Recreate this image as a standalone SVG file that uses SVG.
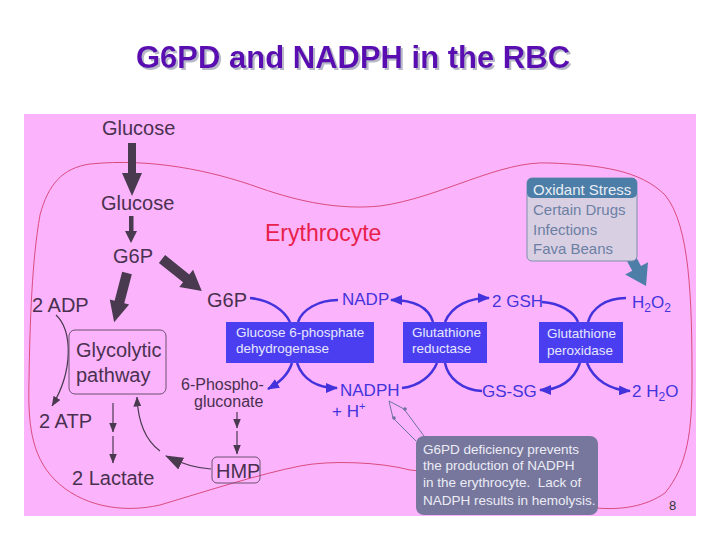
<svg xmlns="http://www.w3.org/2000/svg" width="720" height="540" viewBox="0 0 720 540">
<style>
text{font-family:"Liberation Sans",Arial,sans-serif}
.dk{fill:#4a3050;font-size:20px}
.bl{fill:#4433dd;font-size:17px}
.en{fill:#e6e6ff;font-size:13.5px}
.bx{fill:#4b3ef0}
.dl{fill:none;stroke:#4a3a50;stroke-width:1.2}
.bc{fill:none;stroke:#4433dd;stroke-width:2.5}
.thick{fill:#4a3a50}
</style>
<defs>
<filter id="sh" x="-5%" y="-20%" width="110%" height="150%"><feDropShadow dx="2" dy="2" stdDeviation="0.3" flood-color="#b8b8c8" flood-opacity="1"/></filter>
<marker id="ab" viewBox="0 0 12 10" refX="11" refY="5" markerWidth="12" markerHeight="10" markerUnits="userSpaceOnUse" orient="auto"><path d="M0,0 L12,5 L0,10 Z" fill="#4433dd"/></marker>
<marker id="ad" viewBox="0 0 10 8" refX="9.5" refY="4" markerWidth="10" markerHeight="8" markerUnits="userSpaceOnUse" orient="auto"><path d="M0,0 L10,4 L0,8 Z" fill="#4a3a50"/></marker>
<marker id="adb" viewBox="0 0 18 13" refX="17" refY="6.5" markerWidth="18" markerHeight="13" markerUnits="userSpaceOnUse" orient="auto"><path d="M0,0 L18,6.5 L0,13 Z" fill="#4a3a50"/></marker>
</defs>
<rect width="720" height="540" fill="#ffffff"/>
<g id="title">
<text x="353" y="68" text-anchor="middle" font-size="31" font-weight="bold" fill="#5a0ab0" filter="url(#sh)">G6PD and NADPH in the RBC</text>
</g>
<rect id="panel" x="24" y="114" width="672" height="402" fill="#fbb4fb"/>
<path id="cell" d="M90,164 C150,158 210,170 260,188 C300,202 340,210 380,206 C440,198 500,160 550,163 C600,165 640,170 665,195 C690,225 692,300 692,380 C692,430 688,465 665,493 C645,507 620,510 597,508 C540,504 460,474 410,470 C380,462 330,460 300,466 C260,474 210,490 160,505 C120,514 80,505 55,480 C30,455 28,420 29,380 C30,320 32,260 40,215 C48,185 62,168 90,164 Z" fill="none" stroke="#d03060" stroke-width="0.8"/>
<text id="erythrocyte" x="265" y="241" font-size="23" fill="#e8204c">Erythrocyte</text>

<g id="connectors">
<polygon class="thick" points="128,143 136,143 136,173 142,173 132,196 122,173 128,173"/>
<polygon class="thick" points="129,216 133.5,216 133.5,231 137,231 131,243 125,231 129,231"/>
<polygon class="thick" points="0,-5 31,-5 31,-11 51,0 31,11 31,5 0,5" transform="translate(162,259) rotate(38.7)"/>
<polygon class="thick" points="0,-5 30,-5 30,-10 51,0 30,10 30,5 0,5" transform="translate(127,273) rotate(104.6)"/>
<path class="dl" d="M56,315 C72,330 74,370 52,406" marker-end="url(#ad)"/>
<path class="dl" d="M113,403 L113,432" marker-end="url(#ad)"/>
<path class="dl" d="M113,436 L113,463" marker-end="url(#ad)"/>
<path class="dl" d="M237,412 L237,428" marker-end="url(#ad)"/>
<path class="dl" d="M237,431 L237,454" marker-end="url(#ad)"/>
<path class="dl" d="M211,469 C195,468 182,464 166,456" marker-end="url(#adb)"/>
<path class="dl" d="M160,451 C145,440 138,422 137,397" marker-end="url(#ad)"/>
<path class="bc" d="M250,298 C270,300 284,310 290,322"/>
<path class="bc" d="M338,300 C318,300 302,310 298,322"/>
<path class="bc" d="M292,363 C288,375 280,382 268,389" marker-end="url(#ab)"/>
<path class="bc" d="M297,363 C303,380 318,388 337,388" marker-end="url(#ab)"/>
<path class="bc" d="M402,388 C420,386 432,375 437,363"/>
<path class="bc" d="M482,391 C462,390 448,378 445,363"/>
<path class="bc" d="M433,322 C428,305 410,300 391,300" marker-end="url(#ab)"/>
<path class="bc" d="M445,322 C452,305 470,298 489,298" marker-end="url(#ab)"/>
<path class="bc" d="M542,302 C560,303 574,312 578,322"/>
<path class="bc" d="M626,298 C606,298 592,308 588,322"/>
<path class="bc" d="M580,363 C574,380 560,390 540,390" marker-end="url(#ab)"/>
<path class="bc" d="M587,363 C594,380 610,390 630,391" marker-end="url(#ab)"/>
<polygon fill="#4d7ea8" points="625.6,258.4 634.4,253.7 641,266 648,262.3 646,286 625.2,274.5 632.2,270.8"/>
<polyline points="424,436 404,409 389,401 393,418 416,441" fill="none" stroke="#7070a0" stroke-width="1"/>
<circle cx="405" cy="409" r="1.8" fill="#7070a0"/>
<circle cx="394" cy="418" r="1.8" fill="#7070a0"/>
</g>

<g id="glucose-out"><text class="dk" x="102" y="135">Glucose</text></g>
<g id="glucose-in"><text class="dk" x="101" y="210">Glucose</text></g>
<g id="g6p-1"><text class="dk" x="113" y="263">G6P</text></g>
<g id="g6p-2"><text class="dk" x="207" y="307">G6P</text></g>
<g id="adp"><text class="dk" x="32" y="312">2 ADP</text></g>
<g id="glycolytic">
<rect x="69" y="330" width="97" height="64" rx="6" fill="none" stroke="#6a5070" stroke-width="1"/>
<text class="dk" x="76" y="357">Glycolytic</text>
<text class="dk" x="76" y="382">pathway</text>
</g>
<g id="atp"><text class="dk" x="39" y="428">2 ATP</text></g>
<g id="lactate"><text class="dk" x="72" y="485">2 Lactate</text></g>
<g id="hmp">
<rect x="212" y="457" width="48" height="26" rx="5" fill="none" stroke="#6a5070" stroke-width="1"/>
<text class="dk" x="216" y="478" font-size="19">HMP</text>
</g>
<g id="phosphogluconate">
<text class="dk" x="181" y="390" style="font-size:16px">6-Phospho-</text>
<text class="dk" x="194" y="407" style="font-size:16px">gluconate</text>
</g>
<g id="g6pd">
<rect class="bx" x="226" y="322" width="148" height="41"/>
<text class="en" x="236" y="337">Glucose 6-phosphate</text>
<text class="en" x="236" y="353">dehydrogenase</text>
</g>
<g id="gr">
<rect class="bx" x="403" y="322" width="84" height="41"/>
<text class="en" x="412" y="337">Glutathione</text>
<text class="en" x="412" y="353">reductase</text>
</g>
<g id="gpx">
<rect class="bx" x="539" y="322" width="84" height="41"/>
<text class="en" x="547" y="338">Glutathione</text>
<text class="en" x="547" y="355">peroxidase</text>
</g>
<g id="nadp"><text class="bl" x="342" y="305">NADP</text></g>
<g id="nadph">
<text class="bl" x="340" y="396">NADPH</text>
<text class="bl" x="332" y="417">+ H<tspan dy="-7" font-size="11">+</tspan></text>
</g>
<g id="gsh"><text class="bl" x="492" y="307">2 GSH</text></g>
<g id="gssg"><text class="bl" x="482" y="397">GS-SG</text></g>
<g id="h2o2"><text class="bl" x="632" y="308">H<tspan dy="4" font-size="12">2</tspan><tspan dy="-4">O</tspan><tspan dy="4" font-size="12">2</tspan></text></g>
<g id="h2o"><text class="bl" x="632" y="397">2 H<tspan dy="4" font-size="12">2</tspan><tspan dy="-4">O</tspan></text></g>
<g id="oxidant">
<rect x="527" y="178" width="110" height="83" rx="5" fill="#d9cfe3" stroke="#7a8fb0" stroke-width="1"/>
<rect x="527" y="178" width="110" height="20" rx="5" fill="#4d7ea8"/>
<text x="533" y="195" font-size="15" fill="#e8eef5">Oxidant Stress</text>
<text x="533" y="215" font-size="15" fill="#6b7fa3">Certain Drugs</text>
<text x="533" y="235" font-size="15" fill="#6b7fa3">Infections</text>
<text x="533" y="254" font-size="15" fill="#6b7fa3">Fava Beans</text>
</g>
<g id="callout">
<rect x="416" y="436" width="182" height="79" rx="8" fill="#77779e"/>
<text x="423" y="454" font-size="13.5" fill="#ececf5">G6PD deficiency prevents</text>
<text x="423" y="470" font-size="13.5" fill="#ececf5">the production of NADPH</text>
<text x="423" y="487" font-size="13.5" fill="#ececf5" xml:space="preserve">in the erythrocyte.  Lack of</text>
<text x="423" y="505" font-size="13.5" fill="#ececf5">NADPH results in hemolysis.</text>
</g>
<text id="page" x="669" y="510" font-size="13" fill="#333333">8</text>
</svg>
